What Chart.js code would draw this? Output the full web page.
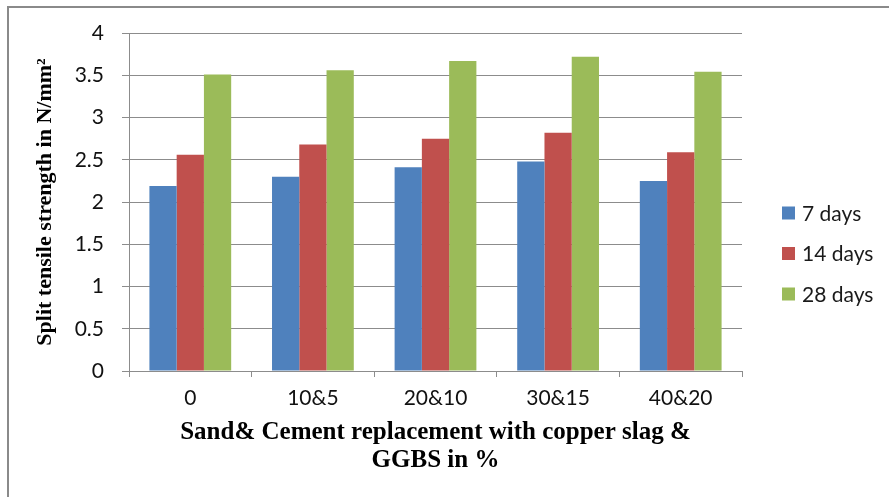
<!DOCTYPE html>
<html>
<head>
<meta charset="UTF-8">
<script src="https://cdn.jsdelivr.net/npm/chart.js@4"></script>
<style>
  body { margin: 0; background: #fff; }
  #c { display: block; }
</style>
</head>
<body>
<canvas id="c" width="889" height="497"></canvas>
<script>
// chart data
const categories = ['0', '10&5', '20&10', '30&15', '40&20'];
const seriesLabels = ['7 days', '14 days', '28 days'];
const days7 = [2.19, 2.30, 2.41, 2.48, 2.25];
const days14 = [2.56, 2.68, 2.75, 2.82, 2.59];
const days28 = [3.51, 3.56, 3.67, 3.72, 3.54];
const yMin = 0, yMax = 4, yStep = 0.5;

const colors = ['#4F81BD', '#C0504D', '#9BBB59'];
const gridGray = '#8c8c8c';
const labelFont = { family: 'Lato', size: 21 };
const yTitleFont = { family: 'Liberation Serif', size: 22, weight: 'bold' };
const xTitleFont = { family: 'Liberation Serif', size: 25, weight: 'bold', lineHeight: 1.1 };

// outer frame (only top and left edges show in the picture)
const framePlugin = {
  id: 'frame',
  beforeDraw(chart) {
    const ctx = chart.ctx;
    ctx.save();
    ctx.fillStyle = '#fff';
    ctx.fillRect(0, 0, chart.width, chart.height);
    ctx.strokeStyle = '#8a8a8a';
    ctx.lineWidth = 2;
    ctx.beginPath();
    ctx.moveTo(8, chart.height);
    ctx.lineTo(8, 7);
    ctx.lineTo(chart.width, 7);
    ctx.stroke();
    ctx.restore();
  }
};

// legend on the right, stacked
const sideLegend = {
  id: 'sideLegend',
  afterDraw(chart) {
    const ctx = chart.ctx;
    const x = 782, y0 = 213, step = 40.5, box = 13;
    ctx.save();
    ctx.font = '21px Lato';
    ctx.textBaseline = 'middle';
    ctx.textAlign = 'left';
    chart.data.datasets.forEach((ds, i) => {
      const y = y0 + i * step;
      ctx.fillStyle = ds.backgroundColor;
      ctx.fillRect(x, y - box / 2, box, box);
      ctx.fillStyle = '#1a1a1a';
      ctx.fillText(ds.label, x + 20, y + 1);
    });
    ctx.restore();
  }
};

new Chart(document.getElementById('c'), {
  type: 'bar',
  data: {
    labels: categories,
    datasets: [
      { label: seriesLabels[0], data: days7, backgroundColor: colors[0] },
      { label: seriesLabels[1], data: days14, backgroundColor: colors[1] },
      { label: seriesLabels[2], data: days28, backgroundColor: colors[2] }
    ]
  },
  options: {
    responsive: false,
    animation: false,
    devicePixelRatio: 1,
    categoryPercentage: 0.667,
    barPercentage: 1,
    layout: { padding: { left: 0, right: 147, top: 33, bottom: 0 } },
    plugins: {
      legend: { display: false },
      tooltip: { enabled: false }
    },
    scales: {
      x: {
        grid: { offset: true, drawOnChartArea: false, drawTicks: true, tickLength: 6, color: gridGray },
        border: { color: gridGray },
        ticks: { font: labelFont, color: '#111', padding: 9 },
        title: {
          display: true,
          text: ['Sand& Cement replacement with copper slag &', 'GGBS in %'],
          font: xTitleFont,
          color: '#000',
          padding: { top: 0, bottom: 23 }
        },
        afterFit(scale) { scale.height = 126; }
      },
      y: {
        min: yMin,
        max: yMax,
        grid: { color: gridGray, tickLength: 7 },
        border: { color: gridGray },
        ticks: {
          stepSize: yStep,
          font: labelFont,
          color: '#111',
          padding: 18,
          callback: v => String(v)
        },
        title: {
          display: true,
          text: 'Split tensile strength in N/mm²',
          font: yTitleFont,
          color: '#000',
          padding: { top: 32, bottom: 0 }
        },
        afterFit(scale) { scale.width = 129; }
      }
    }
  },
  plugins: [framePlugin, sideLegend]
});
</script>
</body>
</html>
